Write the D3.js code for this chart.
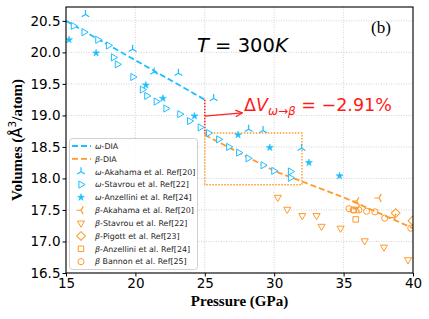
<!DOCTYPE html>
<html>
<head>
<meta charset="utf-8">
<script src="https://d3js.org/d3.v7.min.js"></script>
<style>
  body { margin: 0; background: #fff; }
  svg { display: block; }
  .tick text { font-family: 'DejaVu Sans', sans-serif; font-size: 13.5px; fill: #000; }
</style>
</head>
<body>
<svg id="chart" width="429" height="319"></svg>
<script>
// pressure (GPa), volume (A^3/atom)
const omegaDIA = [[15, 20.5], [25, 19.25]];
const betaDIA = [[25, 18.69], [30, 18.12], [35, 17.7], [40, 17.21]];

const omegaAkahama = [[16.4, 20.6], [19.8, 20.05], [21.35, 19.69], [23.1, 19.67],
  [25.64, 19.27], [28.16, 18.78], [29.2, 18.76], [31.97, 18.48]];
const omegaStavrou = [[15.53, 20.42], [16.3, 20.32], [17.29, 20.2], [18.06, 20.11],
  [18.42, 19.92], [18.7, 19.81], [19.82, 19.61], [20.5, 19.41], [20.82, 19.31],
  [21.5, 19.22], [22.2, 19.11], [23.2, 19.02], [23.9, 18.91], [24.67, 18.81],
  [25.27, 18.72], [26.0, 18.62], [26.72, 18.5], [27.44, 18.41], [28.12, 18.32],
  [29.2, 18.21], [29.97, 18.12], [31.17, 18.11], [31.17, 18.01]];
const omegaAnzellini = [[15.22, 20.2], [17.17, 19.99], [20.75, 19.48], [21.98, 19.27],
  [24.26, 18.99], [27.4, 18.69], [29.68, 18.49], [32.5, 18.25], [34.71, 18.04]];
const betaAkahama = [[35.94, 17.64], [37.55, 17.69], [36.0, 17.52], [38.63, 17.38]];
const betaStavrou = [[30.26, 17.7], [30.94, 17.51], [32.02, 17.41], [33.05, 17.41],
  [33.41, 17.24], [34.78, 17.21], [36.52, 17.01], [37.91, 16.91], [39.64, 16.71]];
const betaPigott = [[38.75, 17.45], [39.96, 17.33]];
const betaAnzellini = [[35.87, 17.35], [35.74, 17.5]];
const betaBannon = [[35.39, 17.52], [35.7, 17.5], [36.1, 17.5], [36.66, 17.48],
  [37.26, 17.47], [37.96, 17.37], [39.84, 17.21]];

const xTicks = [15, 20, 25, 30, 35, 40];
const yTicks = [16.5, 17.0, 17.5, 18.0, 18.5, 19.0, 19.5, 20.0, 20.5];

const cyan = '#1cbfff';
const orange = '#ff9a2a';

const svg = d3.select('#chart');
const margin = { left: 66, top: 7, right: 16, bottom: 46 };
const W = 429, H = 319;
const x = d3.scaleLinear().domain([15, 40]).range([margin.left, W - margin.right]);
const y = d3.scaleLinear().domain([16.5, 20.72]).range([H - margin.bottom, margin.top]);

svg.append('defs').append('clipPath').attr('id', 'clip')
  .append('rect')
  .attr('x', margin.left).attr('y', margin.top)
  .attr('width', W - margin.left - margin.right)
  .attr('height', H - margin.top - margin.bottom);

// grid
const grid = svg.append('g');
grid.selectAll('.gx').data(xTicks).enter().append('line')
  .attr('x1', d => x(d)).attr('x2', d => x(d))
  .attr('y1', margin.top).attr('y2', H - margin.bottom)
  .attr('stroke', '#c8c8c8').attr('stroke-width', 0.8).attr('stroke-dasharray', '1,1.5');
grid.selectAll('.gy').data(yTicks).enter().append('line')
  .attr('y1', d => y(d)).attr('y2', d => y(d))
  .attr('x1', margin.left).attr('x2', W - margin.right)
  .attr('stroke', '#c8c8c8').attr('stroke-width', 0.8).attr('stroke-dasharray', '1,1.5');

// axes
const xAxis = svg.append('g')
  .attr('transform', `translate(0,${H - margin.bottom})`)
  .call(d3.axisBottom(x).tickValues(xTicks).tickFormat(d3.format('d')).tickSize(3.5).tickPadding(2));
const yAxis = svg.append('g')
  .attr('transform', `translate(${margin.left},0)`)
  .call(d3.axisLeft(y).tickValues(yTicks).tickFormat(d3.format('.1f')).tickSize(3.5).tickPadding(2));
[xAxis, yAxis].forEach(a => {
  a.select('.domain').remove();
  a.selectAll('.tick line').attr('stroke', '#000').attr('stroke-width', 1);
});

const plot = svg.append('g').attr('clip-path', 'url(#clip)');

const line = d3.line().x(d => x(d[0])).y(d => y(d[1]));
plot.append('path').datum(omegaDIA).attr('d', line)
  .attr('fill', 'none').attr('stroke', cyan).attr('stroke-width', 1.8).attr('stroke-dasharray', '6,3');
plot.append('path').datum(betaDIA).attr('d', line)
  .attr('fill', 'none').attr('stroke', orange).attr('stroke-width', 1.8).attr('stroke-dasharray', '6,3');

// transition markers: red dotted step, orange dotted zoom box
plot.append('line')
  .attr('x1', x(25)).attr('x2', x(25)).attr('y1', y(19.25)).attr('y2', y(18.69))
  .attr('stroke', '#ff2020').attr('stroke-width', 1.6).attr('stroke-dasharray', '1.5,1.5');
plot.append('rect')
  .attr('x', x(25)).attr('y', y(18.72))
  .attr('width', x(32) - x(25)).attr('height', y(17.9) - y(18.72))
  .attr('fill', 'none').attr('stroke', orange).attr('stroke-width', 1.4).attr('stroke-dasharray', '1.5,1.5');

// marker shapes
function triPath(angles, r) {
  return angles.map(a => {
    const t = a * Math.PI / 180;
    return `M0,0L${(r * Math.cos(t)).toFixed(2)},${(-r * Math.sin(t)).toFixed(2)}`;
  }).join('');
}
const markers = {
  triUp: { d: triPath([90, 210, 330], 4.5), fill: 'none', sw: 1.2 },
  triLeft: { d: triPath([180, 60, 300], 4.5), fill: 'none', sw: 1.2 },
  triRight: { d: d3.symbol(d3.symbolTriangle, 22)(), rot: 90, fill: '#fff', sw: 1 },
  star: { d: d3.symbol(d3.symbolStar, 15)(), fill: 'cur', sw: 0.6 },
  triDown: { d: d3.symbol(d3.symbolTriangle, 22)(), rot: 180, fill: '#fff', sw: 1 },
  diamond: { d: d3.symbol(d3.symbolSquare, 38)(), rot: 45, fill: 'none', sw: 1 },
  square: { d: d3.symbol(d3.symbolSquare, 30)(), fill: 'none', sw: 1 },
  circle: { d: d3.symbol(d3.symbolCircle, 30)(), fill: 'none', sw: 1 }
};

function drawMarks(g, data, m, color) {
  return g.selectAll(null).data(data).enter().append('path')
    .attr('d', m.d)
    .attr('transform', d => `translate(${x(d[0])},${y(d[1])})rotate(${m.rot || 0})`)
    .attr('fill', m.fill === 'cur' ? color : m.fill)
    .attr('stroke', color).attr('stroke-width', m.sw);
}

drawMarks(plot, omegaAkahama, markers.triUp, cyan);
drawMarks(plot, omegaStavrou, markers.triRight, cyan);
drawMarks(plot, omegaAnzellini, markers.star, cyan);
drawMarks(plot, betaAkahama, markers.triLeft, orange);
drawMarks(plot, betaStavrou, markers.triDown, orange);
drawMarks(plot, betaPigott, markers.diamond, orange);
drawMarks(plot, betaAnzellini, markers.square, orange);
drawMarks(plot, betaBannon, markers.circle, orange);

// arrow + delta V label
svg.append('defs').append('marker')
  .attr('id', 'arr').attr('viewBox', '0 0 10 10').attr('refX', 9).attr('refY', 5)
  .attr('markerWidth', 7).attr('markerHeight', 7).attr('orient', 'auto')
  .append('path').attr('d', 'M1,1L9,5L1,9').attr('fill', 'none').attr('stroke', '#ff2020').attr('stroke-width', 1.4);
svg.append('line')
  .attr('x1', x(25)).attr('y1', y(18.99)).attr('x2', x(27.7)).attr('y2', y(19.04))
  .attr('stroke', '#ff2020').attr('stroke-width', 1.2).attr('marker-end', 'url(#arr)');

const dv = svg.append('text')
  .attr('x', 244).attr('y', 111)
  .attr('font-family', 'DejaVu Sans, sans-serif').attr('font-size', 17.5).attr('fill', '#ff1a1a');
dv.append('tspan').text('Δ');
dv.append('tspan').attr('font-style', 'italic').text('V');
dv.append('tspan').attr('font-style', 'italic').attr('font-size', 12).attr('dy', 4).text('ω');
dv.append('tspan').attr('font-size', 12).text('→');
dv.append('tspan').attr('font-style', 'italic').attr('font-size', 12).text('β');
dv.append('tspan').attr('dy', -4).text(' = −2.91%');

const tt = svg.append('text')
  .attr('x', 197).attr('y', 52)
  .attr('font-family', 'DejaVu Sans, sans-serif').attr('font-size', 19.5).attr('fill', '#000');
tt.append('tspan').attr('font-style', 'italic').text('T');
tt.append('tspan').text(' = 300');
tt.append('tspan').attr('font-style', 'italic').text('K');

svg.append('text').attr('x', 371).attr('y', 33)
  .attr('font-family', 'Liberation Serif, serif').attr('font-size', 17).text('(b)');

// legend
const lg = svg.append('g');
lg.append('rect').attr('x', 69.5).attr('y', 138.5).attr('width', 128).attr('height', 131)
  .attr('rx', 3).attr('fill', 'rgba(255,255,255,0.85)').attr('stroke', '#d0d0d0').attr('stroke-width', 1);

const legendItems = [
  { label: ['ω', '-DIA'], line: cyan },
  { label: ['β', '-DIA'], line: orange },
  { label: ['ω', '-Akahama et al. Ref[20]'], m: markers.triUp, c: cyan },
  { label: ['ω', '-Stavrou et al. Ref[22]'], m: markers.triRight, c: cyan },
  { label: ['ω', '-Anzellini et al. Ref[24]'], m: markers.star, c: cyan },
  { label: ['β', '-Akahama et al. Ref[20]'], m: markers.triLeft, c: orange },
  { label: ['β', '-Stavrou et al. Ref[22]'], m: markers.triDown, c: orange },
  { label: ['β', '-Pigott et al. Ref[23]'], m: markers.diamond, c: orange },
  { label: ['β', '-Anzellini et al. Ref[24]'], m: markers.square, c: orange },
  { label: ['β', ' Bannon et al. Ref[25]'], m: markers.circle, c: orange }
];
legendItems.forEach((it, i) => {
  const cy = 146 + i * 12.85;
  if (it.line) {
    lg.append('line').attr('x1', 72).attr('x2', 91).attr('y1', cy).attr('y2', cy)
      .attr('stroke', it.line).attr('stroke-width', 1.8).attr('stroke-dasharray', '6,3');
  } else {
    drawMarks(lg, [[0, 0]], it.m, it.c)
      .attr('transform', `translate(81,${cy})rotate(${it.m.rot || 0})`);
  }
  const t = lg.append('text').attr('x', 95).attr('y', cy + 2.8)
    .attr('font-family', 'DejaVu Sans, sans-serif').attr('font-size', 7.9).attr('fill', '#222');
  t.append('tspan').attr('font-style', 'italic').text(it.label[0]);
  t.append('tspan').text(it.label[1]);
});

// frame
svg.append('rect').attr('x', margin.left).attr('y', margin.top)
  .attr('width', W - margin.left - margin.right).attr('height', H - margin.top - margin.bottom)
  .attr('fill', 'none').attr('stroke', '#000').attr('stroke-width', 1.1);

// axis titles
svg.append('text').attr('x', (margin.left + W - margin.right) / 2).attr('y', 306)
  .attr('text-anchor', 'middle').attr('font-family', 'Liberation Serif, serif')
  .attr('font-weight', 'bold').attr('font-size', 15).text('Pressure (GPa)');

const yl = svg.append('text')
  .attr('transform', 'translate(22,140) rotate(-90)')
  .attr('text-anchor', 'middle').attr('font-family', 'Liberation Serif, serif')
  .attr('font-weight', 'bold').attr('font-size', 15);
yl.append('tspan').text('Volumes (');
yl.append('tspan').attr('font-family', 'DejaVu Sans, sans-serif').attr('font-weight', 'normal').text('Å');
yl.append('tspan').attr('font-family', 'DejaVu Sans, sans-serif').attr('font-weight', 'normal')
  .attr('font-size', 10.5).attr('dy', -6).text('3');
yl.append('tspan').attr('dy', 6).text('/atom)');
</script>
</body>
</html>
